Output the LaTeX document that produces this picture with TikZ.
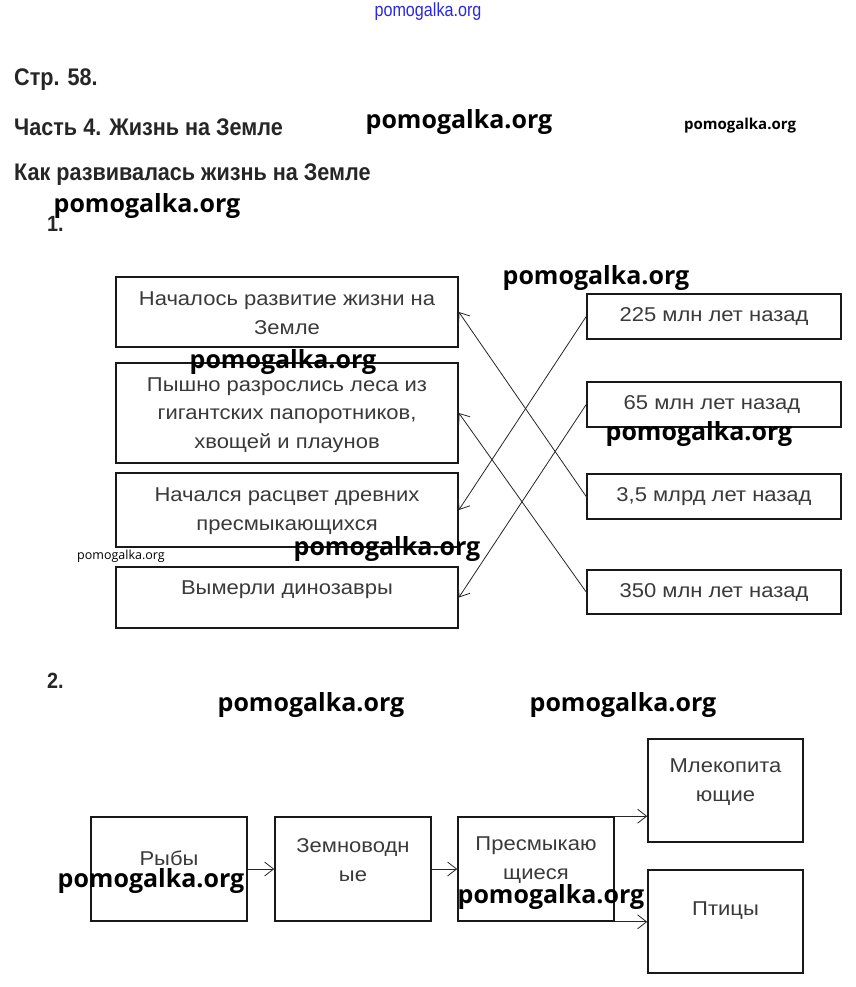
\documentclass[tikz,border=0pt]{standalone}
\usepackage{fontspec}
\setmainfont{Liberation Sans}
\newfontfamily\headfont{Liberation Sans}[FakeStretch=0.9]
\newfontfamily\boxfont{Liberation Sans}[FakeStretch=1.1]
\newfontfamily\wmfont{Open Sans}
\newfontfamily\bluefont{Liberation Sans}[FakeStretch=0.85]
\usetikzlibrary{arrows.meta}
\definecolor{txt}{HTML}{3A3A3A}
\definecolor{wmblue}{HTML}{2B2BD0}
\tikzset{
  box/.style={draw=black!90, line width=1.6pt, inner sep=0pt},
  btext/.style={font=\boxfont\fontsize{20}{28.5}\selectfont, text=txt, align=center, inner sep=0pt},
  head/.style={font=\headfont\bfseries\fontsize{24}{28}\selectfont, anchor=west, inner sep=0pt, text=black!85},
  wm/.style={font=\wmfont\bfseries\fontsize{25}{28}\selectfont, inner sep=0pt},
  wms/.style={font=\wmfont\bfseries\fontsize{15}{18}\selectfont, inner sep=0pt},
  link/.style={line width=0.8pt, black!85, -{Straight Barb[length=9pt,width=14pt,line width=0.8pt]}},
}
\begin{document}
\begin{tikzpicture}[x=1pt,y=-1pt]
\useasboundingbox[fill=white] (0,0) rectangle (855,987);

% headings
\node[head] (h1) at (14,80) {Стр. 58.};
\node[head] (h2) at (14,127) {Часть 4. Жизнь на Земле};
\node[head] (h3) at (14,175) {Как развивалась жизнь на Земле};
\node[head, font=\headfont\bfseries\fontsize{22}{24}\selectfont] (n1) at (47,224) {1.};
\node[head, font=\headfont\bfseries\fontsize{22}{24}\selectfont] (n2) at (47,681) {2.};

% part 1 left boxes
\node[box, minimum width=342pt, minimum height=70pt] (A) at (287,312) {};
\node[box, minimum width=342pt, minimum height=100pt] (B) at (287,413) {};
\node[box, minimum width=342pt, minimum height=74pt] (C) at (287,510) {};
\node[box, minimum width=342pt, minimum height=61pt] (D) at (287,597.5) {};
\node[btext] (tA) at (287,313) {Началось развитие жизни на\\Земле};
\node[btext] (tB) at (287,415) {Пышно разрослись леса из\\гигантских папоротников,\\хвощей и плаунов};
\node[btext] (tC) at (287,511) {Начался расцвет древних\\пресмыкающихся};
\node[btext] (tD) at (287,590) {Вымерли динозавры};

% part 1 right boxes
\node[box, minimum width=254pt, minimum height=45pt] (R1) at (714,316.5) {};
\node[box, minimum width=254pt, minimum height=45pt] (R2) at (714,404.5) {};
\node[box, minimum width=254pt, minimum height=45pt] (R3) at (714,496.5) {};
\node[box, minimum width=254pt, minimum height=44pt] (R4) at (714,592) {};
\node[btext] (tR1) at (714,317) {225 млн лет назад};
\node[btext] (tR2) at (712,405) {65 млн лет назад};
\node[btext] (tR3) at (714,497) {3,5 млрд лет назад};
\node[btext] (tR4) at (714,593) {350 млн лет назад};

\draw[link] (R1.west) -- (C.east);
\draw[link] (R2.west) -- (D.east);
\draw[link] (R3.west) -- (A.east);
\draw[link] (R4.west) -- (B.east);

% part 2
\node[box, minimum width=156pt, minimum height=104pt] (F) at (169,869) {};
\node[box, minimum width=156pt, minimum height=104pt] (Z) at (353,869) {};
\node[box, minimum width=156pt, minimum height=104pt] (P) at (536,869) {};
\node[box, minimum width=155pt, minimum height=103pt] (M) at (725.5,790.5) {};
\node[box, minimum width=155pt, minimum height=103pt] (T) at (725.5,921.5) {};
\node[btext] (tF) at (169,858) {Рыбы};
\node[btext] (tZ) at (353,860) {Земноводн\\ые};
\node[btext] (tP) at (536,860) {Пресмыкаю\\щиеся};
\node[btext] (tM) at (725.5,782) {Млекопита\\ющие};
\node[btext] (tT) at (725.5,911) {Птицы};

\draw[link] (F.east) -- (Z.west);
\draw[link] (Z.east) -- (P.west);
\draw[link] (P.north east) -- (P.north east -| M.west);
\draw[link] (P.south east) -- (P.south east -| T.west);

% watermarks
\node[font=\bluefont\fontsize{19}{20}\selectfont, text=wmblue, inner sep=0pt] (w0) at (428,12) {pomogalka.org};
\node[wm] (w1) at (459,122) {pomogalka.org};
\node[wms] (w2) at (740,126) {pomogalka.org};
\node[wm] (w3) at (147,206) {pomogalka.org};
\node[wm] (w4) at (596,278) {pomogalka.org};
\node[wm] (w5) at (283,362) {pomogalka.org};
\node[wm] (w6) at (699,434) {pomogalka.org};
\node[wms, font=\wmfont\fontsize{12.5}{15}\selectfont] (w7) at (121,556) {pomogalka.org};
\node[wm] (w8) at (387,549) {pomogalka.org};
\node[wm] (w9) at (311,705) {pomogalka.org};
\node[wm] (w10) at (623,705) {pomogalka.org};
\node[wm] (w11) at (151,881) {pomogalka.org};
\node[wm] (w12) at (551,897) {pomogalka.org};
\end{tikzpicture}
\end{document}
